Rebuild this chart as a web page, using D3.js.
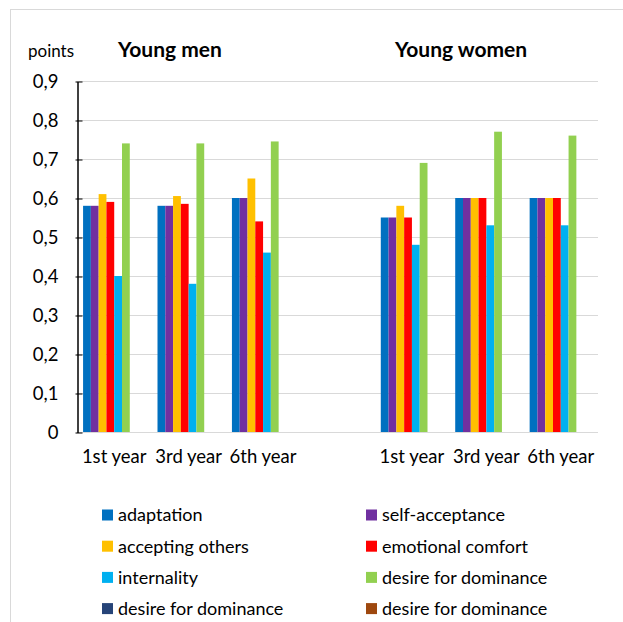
<!DOCTYPE html>
<html>
<head>
<meta charset="utf-8">
<script src="https://cdn.jsdelivr.net/npm/d3@7"></script>
<style>
  body { margin: 0; background: #fff; }
  text { font-family: Lato, "Open Sans", sans-serif; fill: #000; }
  .grid line { stroke: #d9d9d9; stroke-width: 1; }
  .y.axis path, .y.axis line { stroke: #000; }
  .y.axis text { font-size: 18.5px; }
  .xlab { font-size: 18.5px; }
  .title { font-size: 21px; font-weight: bold; }
  .legende { font-size: 18px; }
</style>
</head>
<body>
<div id="chart"></div>
<script>
(function () {
    "use strict";

    var groups = ["Young men", "Young women"],
        years = ["1st year", "3rd year", "6th year"],
        series = ["adaptation", "self-acceptance", "accepting others", "emotional comfort",
                  "internality", "desire for dominance", "desire for dominance ", "desire for dominance  "],
        colors = ["#0070c0", "#7030a0", "#ffc000", "#ff0000", "#00b0f0", "#92d050", "#264478", "#9e480e"],
        // men 1st, 3rd, 6th, then women 1st, 3rd, 6th
        adaptation = [0.58, 0.58, 0.60, 0.55, 0.60, 0.60],
        selfAcceptance = [0.58, 0.58, 0.60, 0.55, 0.60, 0.60],
        acceptingOthers = [0.61, 0.605, 0.65, 0.58, 0.60, 0.60],
        emotionalComfort = [0.59, 0.585, 0.54, 0.55, 0.60, 0.60],
        internality = [0.40, 0.38, 0.46, 0.48, 0.53, 0.53],
        dominance = [0.74, 0.74, 0.745, 0.69, 0.77, 0.76],
        dominance2 = [null, null, null, null, null, null],
        dominance3 = [null, null, null, null, null, null],
        yTicks = [0, 0.1, 0.2, 0.3, 0.4, 0.5, 0.6, 0.7, 0.8, 0.9];

    var values = [adaptation, selfAcceptance, acceptingOthers, emotionalComfort,
                  internality, dominance, dominance2, dominance3];

    var widthGlobal = 623, heightGlobal = 622,
        plot = {left: 77, right: 598, top: 81, bottom: 432};

    // slots: 3 men, a blank one, 3 women
    var slots = [];
    groups.forEach(function (g, gi) {
        if (gi > 0) { slots.push("blank"); }
        years.forEach(function (yr, yi) { slots.push(gi + "-" + yi); });
    });

    var x0 = d3.scaleBand().domain(slots).range([plot.left, plot.right]).padding(0),
        x1 = d3.scaleBand().domain(d3.range(series.length)).range([0, x0.bandwidth()])
            .paddingInner(0).paddingOuter(0.78),
        y = d3.scaleLinear().domain([0, 0.9]).range([plot.bottom, plot.top]);

    var svg = d3.select("#chart").append("svg")
        .attr("width", widthGlobal)
        .attr("height", heightGlobal);

    svg.append("rect")
        .attr("x", 10.5).attr("y", 9.5)
        .attr("width", widthGlobal).attr("height", heightGlobal)
        .attr("fill", "none").attr("stroke", "#d9d9d9");

    svg.append("g").attr("class", "grid").selectAll("line")
        .data(yTicks)
        .enter().append("line")
        .attr("x1", plot.left)
        .attr("x2", plot.right)
        .attr("y1", function (d) { return Math.round(y(d)) + 0.5; })
        .attr("y2", function (d) { return Math.round(y(d)) + 0.5; });

    // bars
    var rows = [];
    slots.forEach(function (s) {
        if (s === "blank") { return; }
        var p = s.split("-").map(Number), idx = p[0] * years.length + p[1];
        values.forEach(function (v, si) {
            if (v[idx] !== null) { rows.push({slot: s, s: si, v: v[idx]}); }
        });
    });

    svg.append("g").selectAll("rect")
        .data(rows)
        .enter().append("rect")
        .attr("x", function (d) { return x0(d.slot) + x1(d.s); })
        .attr("y", function (d) { return y(d.v); })
        .attr("width", x1.bandwidth())
        .attr("height", function (d) { return y(0) - y(d.v); })
        .attr("fill", function (d) { return colors[d.s]; });

    var yAxis = svg.append("g")
        .attr("class", "y axis")
        .attr("transform", "translate(" + (plot.left + 0.5) + ",0.5)")
        .call(d3.axisLeft(y).tickValues(yTicks).tickSize(2).tickSizeOuter(0)
            .tickFormat(function (d) { return d === 0 ? "0" : d3.format(".1f")(d).replace(".", ","); }));
    yAxis.select(".domain").attr("stroke-width", 1.5);
    // ticks cross the axis line, a bit more on the inside
    yAxis.selectAll(".tick line").attr("x1", -2).attr("x2", 5);
    yAxis.selectAll("text").attr("x", -19).attr("dy", "0.35em");

    // x labels
    svg.append("g").selectAll("text")
        .data(slots.filter(function (s) { return s !== "blank"; }))
        .enter().append("text")
        .attr("class", "xlab")
        .attr("x", function (s) { return x0(s) + x0.bandwidth() / 2; })
        .attr("y", 463)
        .attr("text-anchor", "middle")
        .text(function (s) { return years[+s.split("-")[1]]; });

    svg.append("text")
        .attr("x", 28).attr("y", 57)
        .style("font-size", "17px")
        .text("points");

    svg.selectAll(".title")
        .data(groups)
        .enter().append("text")
        .attr("class", "title")
        .attr("x", function (d, i) { return i === 0 ? 118 : 395; })
        .attr("y", 57)
        .text(function (d) { return d; });

    // legend, two columns
    var leg = svg.append("g").selectAll("g")
        .data(series)
        .enter().append("g")
        .attr("transform", function (d, i) {
            return "translate(" + (i % 2 === 0 ? 102 : 366) + "," + (515 + Math.floor(i / 2) * 31.2) + ")";
        });
    leg.append("rect")
        .attr("x", 0).attr("y", -5.5)
        .attr("width", 11).attr("height", 11)
        .attr("fill", function (d, i) { return colors[i]; });
    leg.append("text")
        .attr("class", "legende")
        .attr("x", 16).attr("y", 0)
        .attr("dy", "0.35em")
        .text(function (d) { return d.trim(); });
}());
</script>
</body>
</html>
